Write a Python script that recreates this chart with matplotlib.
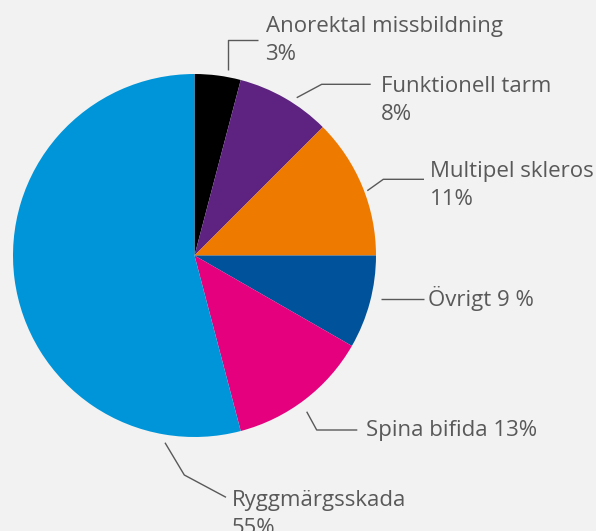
import matplotlib.pyplot as plt

# Slice shares as drawn (clockwise from 12 o'clock)
categories = ['Anorektal missbildning', 'Funktionell tarm', 'Multipel skleros',
              'Övrigt', 'Spina bifida', 'Ryggmärgsskada']
values = [4.1, 8.4, 12.5, 8.3, 12.6, 54.1]
labels = ['Anorektal missbildning\n3%', 'Funktionell tarm\n8%', 'Multipel skleros\n11%',
          'Övrigt 9 %', 'Spina bifida 13%', 'Ryggmärgsskada\n55%']
colors = ['#000000', '#5e2281', '#ee7a00', '#00529b', '#e5007d', '#0095d8']

W, H = 596, 531
bg = '#f2f2f2'
txt = '#595959'

fig = plt.figure(figsize=(W / 100, H / 100), dpi=100, facecolor=bg)

# pie axes, placed in pixel terms
cx, cy, r = 194.5, 255.5, 181.5
ax = fig.add_axes([(cx - r) / W, (H - cy - r) / H, 2 * r / W, 2 * r / H])
ax.pie(values, colors=colors, startangle=90, counterclock=False,
       wedgeprops={'linewidth': 0, 'clip_on': False})
ax.set_xlim(-1, 1)
ax.set_ylim(-1, 1)
ax.set_aspect('auto')
ax.axis('off')

# overlay for leader lines and labels (pixel coordinates)
ov = fig.add_axes([0, 0, 1, 1], facecolor='none')
ov.set_xlim(0, W)
ov.set_ylim(H, 0)
ov.axis('off')

leaders = [
    [(228.3, 70), (228.3, 40), (257.7, 40)],
    [(296.7, 97.7), (321.7, 84.3), (370.7, 84.3)],
    [(367.3, 190.7), (383.3, 179.3), (424, 179.3)],
    [(381, 299), (424, 299)],
    [(306.7, 411.7), (316.7, 430), (357.3, 430)],
    [(165, 442.7), (184.3, 475), (226, 497.3)],
]
text_pos = [(265.5, 32), (381, 92), (430, 177), (428.5, 306), (365.5, 436), (232, 506)]

for path, (tx, ty), lab in zip(leaders, text_pos, labels):
    xs, ys = zip(*path)
    ov.plot(xs, ys, color=txt, lw=1.0, solid_capstyle='butt')
    for i, line in enumerate(lab.split('\n')):
        ov.text(tx, ty + i * 28, line, fontsize=16, family='Open Sans',
                color=txt, ha='left', va='baseline')

fig.savefig('out.png', dpi=100, facecolor=bg)
